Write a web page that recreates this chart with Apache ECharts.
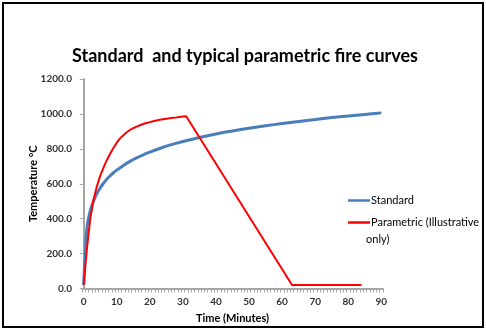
<!DOCTYPE html>
<html><head><meta charset="utf-8">
<script src="https://cdn.jsdelivr.net/npm/echarts@6/dist/echarts.min.js"></script>
<style>html,body{margin:0;padding:0;background:#fff}#c{width:486px;height:332px}</style>
</head><body><div id="c"></div>
<script>
// Standard fire curve
var stdMinutes = [0,1,2,3,4,5,6,7,8,9,10,12,14,16,18,20,23,26,30,35,40,45,50,55,60,65,70,75,80,85,90];
var stdTemps   = [20,349,445,502,544,576,603,626,645,663,678,705,728,748,766,781,802,821,842,865,885,902,918,932,945,957,968,979,988,997,1006];
// Parametric fire curve (illustrative)
var parMinutes = [0,1,2,3,4,5,6,7,8,9,10,11,12,13,14,15,16,17,18,19,20,21,22,23,24,25,26,27,28,29,30,31,63,84];
var parTemps   = [20,230,400,510,585,645,692,735,772,805,835,860,878,895,908,918,927,935,942,948,953,958,962,966,969,972,975,978,980,983,985,987,20,20];
var xLabelValues = [0,10,20,30,40,50,60,70,80,90];
var seriesNames = ['Standard','Parametric (Illustrative only)'];

function pairs(xs, ys){ return xs.map(function(x,i){ return [x, ys[i]]; }); }
var minorTicks = [];
for (var k = 0; k <= 91; k++) minorTicks.push(k - 0.5);

var chart = echarts.init(document.getElementById('c'), null, {renderer:'canvas'});
var font = 'Lato, "DejaVu Sans", sans-serif';
chart.setOption({
  animation: false,
  backgroundColor: '#fff',
  textStyle: {fontFamily: font},
  title: {
    text: 'Standard  and typical parametric fire curves',
    left: 240, top: 42, textAlign: 'center',
    textStyle: {fontFamily: font, fontSize: 18, fontWeight: 'bold', color: '#000'}
  },
  grid: {left: 82, right: 103, top: 79, bottom: 43.5},
  legend: {
    orient: 'vertical', left: 343, top: 190,
    icon: 'rect', itemWidth: 22, itemHeight: 2.5, itemGap: 11,
    data: seriesNames,
    formatter: function(n){ return n === seriesNames[1] ? 'Parametric (Illustrative' : n; },
    textStyle: {fontFamily: font, fontSize: 11, color: '#000', padding: [0,0,0,-4]}
  },
  graphic: [
    {type: 'rect', shape: {x: 3, y: 3, width: 480, height: 324}, style: {fill: 'none', stroke: '#000', lineWidth: 2}},
    {type: 'text', left: 366, top: 234, style: {text: 'only)', fontFamily: font, fontSize: 11, fill: '#000'}}
  ],
  xAxis: {
    type: 'value', min: -0.5, max: 90.5,
    name: 'Time (Minutes)', nameLocation: 'middle', nameGap: 24,
    nameTextStyle: {fontFamily: font, fontSize: 11, fontWeight: 'bold', color: '#000'},
    axisLine: {show: true, lineStyle: {color: '#A6A6A6', width: 2}},
    axisTick: {show: true, customValues: minorTicks, length: 4, lineStyle: {color: '#A6A6A6', width: 1}},
    axisLabel: {customValues: xLabelValues, margin: 8, fontSize: 10, fontWeight: 'bold', color: '#333', fontFamily: font},
    splitLine: {show: false}
  },
  yAxis: {
    type: 'value', min: 0, max: 1200, interval: 200,
    name: 'Temperature °C', nameLocation: 'middle', nameGap: 43, nameRotate: 90, nameMoveOverlap: false,
    nameTextStyle: {fontFamily: font, fontSize: 11, fontWeight: 'bold', color: '#000'},
    axisLine: {show: true, lineStyle: {color: '#A6A6A6', width: 2}},
    axisTick: {show: true, length: 4, lineStyle: {color: '#A6A6A6'}},
    axisLabel: {margin: 10, fontSize: 10, fontWeight: 'bold', color: '#333', fontFamily: font,
      formatter: function(v){ return v.toFixed(1); }},
    splitLine: {show: false}
  },
  series: [
    {name: seriesNames[0], type: 'line', data: pairs(stdMinutes, stdTemps), smooth: 0.3,
     symbol: 'none', lineStyle: {color: '#4A7EBB', width: 3}, itemStyle: {color: '#4A7EBB'}},
    {name: seriesNames[1], type: 'line', data: pairs(parMinutes, parTemps),
     symbol: 'none', lineStyle: {color: '#FF0000', width: 2}, itemStyle: {color: '#FF0000'}}
  ]
});
</script></body></html>
